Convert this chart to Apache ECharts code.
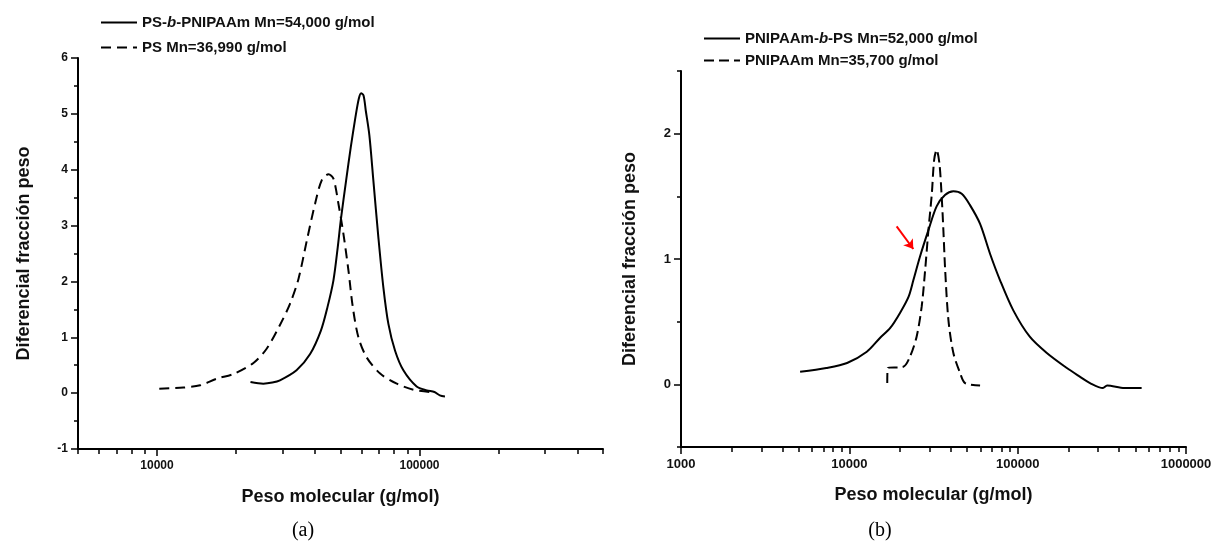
<!DOCTYPE html>
<html>
<head>
<meta charset="utf-8">
<script src="https://cdn.jsdelivr.net/npm/echarts@6/dist/echarts.min.js"></script>
<style>
  html, body { margin: 0; padding: 0; background: #fff; }
  #chart { width: 1215px; height: 545px; }
</style>
</head>
<body>
<div id="chart"></div>
<script>
// (a) PS-b-PNIPAAm vs PS
const mwA1 = [22700, 25400, 27500, 29400, 34000, 38300, 42100, 44600, 47000, 48800, 50200, 52500, 54700, 57000, 58700, 59900, 61200, 62400, 64400, 66700, 69700, 72800, 76100, 80700, 86800, 97500, 106600, 114000, 119500, 125000];
const wA1  = [0.20, 0.17, 0.19, 0.23, 0.41, 0.70, 1.12, 1.54, 2.02, 2.61, 3.12, 3.80, 4.40, 4.94, 5.27, 5.37, 5.33, 5.06, 4.62, 3.81, 2.79, 1.90, 1.24, 0.76, 0.41, 0.12, 0.05, 0.02, -0.04, -0.06];
const mwA2 = [10200, 12600, 14600, 16900, 19500, 23300, 26200, 29400, 32100, 34600, 37200, 40000, 42400, 45000, 47000, 49100, 51300, 53600, 55700, 58500, 62900, 70800, 81900, 94800, 110000];
const wA2  = [0.08, 0.10, 0.14, 0.26, 0.34, 0.54, 0.80, 1.22, 1.60, 2.05, 2.73, 3.39, 3.81, 3.92, 3.84, 3.39, 2.85, 2.20, 1.54, 1.00, 0.64, 0.35, 0.17, 0.06, 0.02];

// (b) PNIPAAm-b-PS vs PNIPAAm
const mwB1 = [5100, 7300, 9700, 12700, 15200, 17500, 20000, 22500, 24000, 26300, 29500, 33000, 37000, 41500, 46500, 52100, 59800, 68600, 78600, 94200, 118000, 149000, 196000, 235000, 269000, 321000, 340000, 431000, 545000];
const wB1  = [0.10, 0.13, 0.17, 0.26, 0.37, 0.45, 0.57, 0.70, 0.83, 1.02, 1.23, 1.42, 1.51, 1.54, 1.52, 1.43, 1.28, 1.04, 0.83, 0.59, 0.38, 0.25, 0.13, 0.06, 0.01, -0.03, -0.01, -0.03, -0.03];
const mwB2 = [16800, 16900, 20900, 22900, 25100, 26900, 28200, 29500, 30900, 31900, 33000, 34300, 35400, 36200, 37100, 38800, 41500, 45500, 48700, 59800];
const wB2  = [0.01, 0.13, 0.14, 0.22, 0.38, 0.62, 0.91, 1.23, 1.52, 1.79, 1.87, 1.76, 1.49, 1.23, 0.91, 0.51, 0.25, 0.09, 0.01, -0.01];

// flecha roja (b)
const arrowFrom = [19100, 1.26];
const arrowTo = [24000, 1.08];

// marcas de los ejes
const xLabelsA = [10000, 100000];
const xMinorA = [5000, 6000, 7000, 8000, 9000, 20000, 30000, 40000, 50000, 60000, 70000, 80000, 90000, 200000, 300000, 400000, 500000];
const xLabelsB = [1000, 10000, 100000, 1000000];
const xMinorB = [2000, 3000, 4000, 5000, 6000, 7000, 8000, 9000, 20000, 30000, 40000, 50000, 60000, 70000, 80000, 90000, 200000, 300000, 400000, 500000, 600000, 700000, 800000, 900000];
const yLabelsB = [0, 1, 2];
const yMinorB = [-0.5, 0.5, 1.5, 2.5];

const names = ['PS-b-PNIPAAm Mn=54,000 g/mol', 'PS Mn=36,990 g/mol', 'PNIPAAm-b-PS Mn=52,000 g/mol', 'PNIPAAm Mn=35,700 g/mol'];

const zip = (xs, ys) => xs.map((x, i) => [x, ys[i]]);

const FONT = '"Liberation Sans", Arial, sans-serif';
const black = '#000';
const titleStyle = { color: '#111', fontFamily: FONT, fontWeight: 'bold', fontSize: 18 };
const labelStyle = size => ({ color: '#111', fontFamily: FONT, fontWeight: 'bold', fontSize: size });

// "-b-" en cursiva dentro de la leyenda
function legendText(name) {
    return name.replace('-b-', '{n|-}{i|b}{n|-}').replace(/^([^{]+)/, '{n|$1}').replace(/\}([^{]+)$/, '}{n|$1}');
}
const legendRich = {
    n: { color: '#111', fontFamily: FONT, fontWeight: 'bold', fontSize: 15 },
    i: { color: '#111', fontFamily: FONT, fontWeight: 'bold', fontStyle: 'italic', fontSize: 15 }
};

function logAxis(grid, min, max, ticks, labels, main, size) {
    return {
        type: 'log', logBase: 10, gridIndex: grid, min: min, max: max, position: 'bottom',
        axisLine: { show: main, onZero: false, lineStyle: { color: black, width: 2 } },
        axisTick: { show: true, customValues: ticks, length: main ? 7 : 5, lineStyle: { color: black, width: 1.5 } },
        axisLabel: labels ? { customValues: labels, formatter: v => String(v), margin: 11, ...labelStyle(size) } : { show: false },
        splitLine: { show: false },
        name: main ? 'Peso molecular (g/mol)' : '',
        nameLocation: 'middle', nameGap: 39, nameTextStyle: titleStyle
    };
}

const chart = echarts.init(document.getElementById('chart'));
chart.setOption({
    animation: false,
    backgroundColor: '#fff',
    grid: [
        { left: 78, top: 58, width: 525, height: 391, outerBoundsMode: 'none' },
        { left: 681, top: 71, width: 505, height: 376, outerBoundsMode: 'none' }
    ],
    legend: [
        {
            data: [names[0], names[1]], orient: 'vertical', left: 95, top: 10,
            itemWidth: 36, itemHeight: 14, itemGap: 10,
            itemStyle: { opacity: 0 },
            formatter: legendText,
            textStyle: { rich: legendRich }
        },
        {
            data: [names[2], names[3]], orient: 'vertical', left: 698, top: 26,
            itemWidth: 36, itemHeight: 14, itemGap: 7,
            itemStyle: { opacity: 0 },
            formatter: legendText,
            textStyle: { rich: legendRich }
        }
    ],
    xAxis: [
        logAxis(0, 5000, 500000, xLabelsA, xLabelsA, true, 12),
        logAxis(0, 5000, 500000, xMinorA, null, false, 12),
        logAxis(1, 1000, 1000000, xLabelsB, xLabelsB, true, 13),
        logAxis(1, 1000, 1000000, xMinorB, null, false, 13)
    ],
    yAxis: [
        {
            type: 'value', gridIndex: 0, min: -1, max: 6, interval: 1, position: 'left',
            axisLine: { show: true, onZero: false, lineStyle: { color: black, width: 2 } },
            axisTick: { show: true, length: 7, lineStyle: { color: black, width: 1.5 } },
            minorTick: { show: true, splitNumber: 2, length: 4, lineStyle: { color: black, width: 1.5 } },
            axisLabel: { margin: 10, ...labelStyle(12) },
            splitLine: { show: false },
            name: 'Diferencial fracción peso', nameLocation: 'middle', nameGap: 45, nameTextStyle: titleStyle
        },
        {
            type: 'value', gridIndex: 1, min: -0.5, max: 2.5, position: 'left',
            axisLine: { show: true, onZero: false, lineStyle: { color: black, width: 2 } },
            axisTick: { show: true, customValues: yLabelsB, length: 7, lineStyle: { color: black, width: 1.5 } },
            axisLabel: { customValues: yLabelsB, margin: 10, ...labelStyle(13) },
            splitLine: { show: false },
            name: 'Diferencial fracción peso', nameLocation: 'middle', nameGap: 42, nameTextStyle: titleStyle
        },
        {
            type: 'value', gridIndex: 1, min: -0.5, max: 2.5, position: 'left',
            axisLine: { show: false, onZero: false },
            axisTick: { show: true, customValues: yMinorB, length: 4, lineStyle: { color: black, width: 1.5 } },
            axisLabel: { show: false },
            splitLine: { show: false }
        }
    ],
    series: [
        {
            name: names[0], type: 'line', xAxisIndex: 0, yAxisIndex: 0,
            data: zip(mwA1, wA1), symbol: 'none', smooth: 0.3,
            lineStyle: { color: black, width: 2 }, itemStyle: { color: black }
        },
        {
            name: names[1], type: 'line', xAxisIndex: 0, yAxisIndex: 0,
            data: zip(mwA2, wA2), symbol: 'none', smooth: 0.3,
            lineStyle: { color: black, width: 2, type: [10, 6] }, itemStyle: { color: black }
        },
        {
            name: names[2], type: 'line', xAxisIndex: 2, yAxisIndex: 1,
            data: zip(mwB1, wB1), symbol: 'none', smooth: 0.3,
            lineStyle: { color: black, width: 2 }, itemStyle: { color: black },
            markLine: {
                silent: true, symbol: ['none', 'arrow'], symbolSize: 9,
                label: { show: false },
                lineStyle: { color: '#ff0000', width: 2, type: 'solid' },
                data: [[{ coord: arrowFrom }, { coord: arrowTo }]]
            }
        },
        {
            name: names[3], type: 'line', xAxisIndex: 2, yAxisIndex: 1,
            data: zip(mwB2, wB2), symbol: 'none', smooth: 0.3,
            lineStyle: { color: black, width: 2, type: [10, 5] }, itemStyle: { color: black }
        }
    ],
    graphic: [
        { type: 'text', x: 303, y: 531, style: { text: '(a)', font: '20px "Liberation Serif", serif', fill: '#000', textAlign: 'center', textVerticalAlign: 'middle' } },
        { type: 'text', x: 880, y: 531, style: { text: '(b)', font: '20px "Liberation Serif", serif', fill: '#000', textAlign: 'center', textVerticalAlign: 'middle' } }
    ]
});

window.addEventListener('resize', () => chart.resize());
</script>
</body>
</html>
